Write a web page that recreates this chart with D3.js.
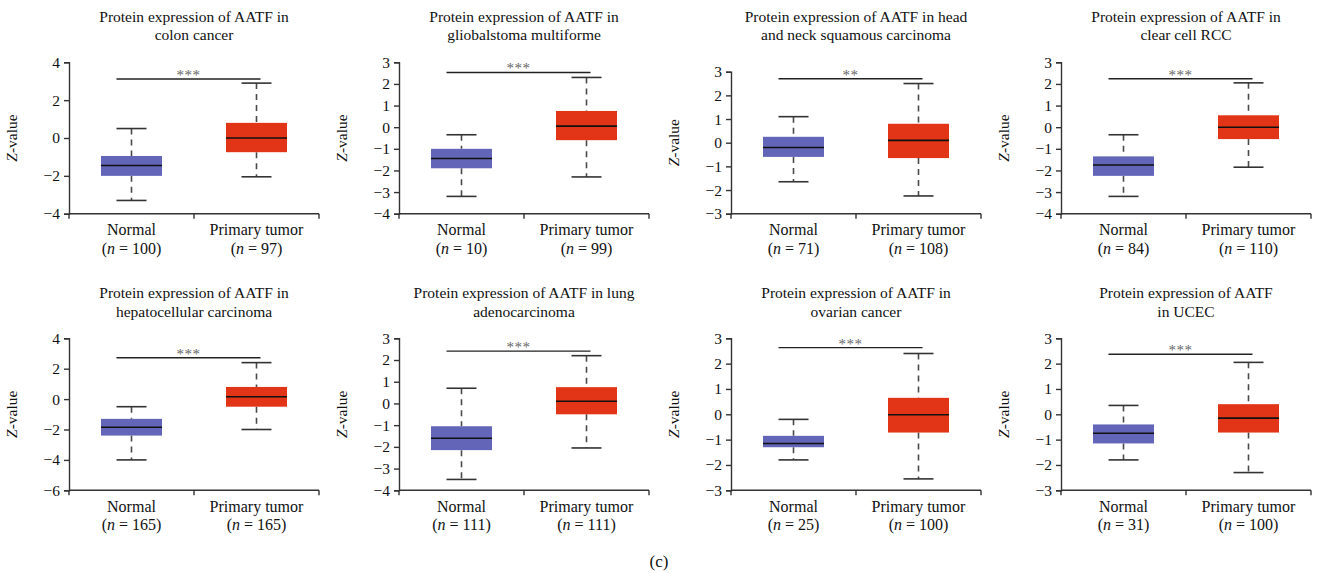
<!DOCTYPE html>
<html>
<head>
<meta charset="utf-8">
<script src="https://cdn.jsdelivr.net/npm/d3@7"></script>
<style>
  body { margin: 0; background: #fff; }
  svg { display: block; font-family: "Liberation Serif", "Times New Roman", serif; }
</style>
</head>
<body>
<svg id="chart" width="1317" height="573"></svg>
<script>
"use strict";

// panel titles (two lines each)
var titles = [
  ["Protein expression of AATF in", "colon cancer"],
  ["Protein expression of AATF in", "gliobalstoma multiforme"],
  ["Protein expression of AATF in head", "and neck squamous carcinoma"],
  ["Protein expression of AATF in", "clear cell RCC"],
  ["Protein expression of AATF in", "hepatocellular carcinoma"],
  ["Protein expression of AATF in lung", "adenocarcinoma"],
  ["Protein expression of AATF in", "ovarian cancer"],
  ["Protein expression of AATF", "in UCEC"]
];
var groups = ["Normal", "Primary tumor"];
var nNormal = [100, 10, 71, 84, 165, 111, 25, 31];
var nTumor = [97, 99, 108, 110, 165, 111, 100, 100];

// [min, q1, median, q3, max]
var normalStats = [
  [-3.3, -2.0, -1.45, -0.95, 0.5],
  [-3.2, -1.9, -1.45, -1.0, -0.35],
  [-1.65, -0.6, -0.2, 0.25, 1.1],
  [-3.2, -2.25, -1.75, -1.35, -0.35],
  [-4.0, -2.4, -1.85, -1.3, -0.5],
  [-3.5, -2.15, -1.6, -1.05, 0.7],
  [-1.8, -1.3, -1.15, -0.85, -0.2],
  [-1.8, -1.15, -0.75, -0.4, 0.35]
];
var tumorStats = [
  [-2.05, -0.75, 0.0, 0.8, 2.9],
  [-2.3, -0.6, 0.05, 0.75, 2.3],
  [-2.25, -0.65, 0.1, 0.8, 2.5],
  [-1.85, -0.55, 0.0, 0.55, 2.05],
  [-2.0, -0.5, 0.15, 0.8, 2.4],
  [-2.05, -0.5, 0.1, 0.75, 2.2],
  [-2.55, -0.72, -0.02, 0.65, 2.4],
  [-2.3, -0.72, -0.15, 0.4, 2.05]
];
var yDomains = [[-4, 4], [-4, 3], [-3, 3], [-4, 3], [-6, 4], [-4, 3], [-3, 3], [-3, 3]];
var yTickStep = [2, 1, 1, 1, 2, 1, 1, 1];
var sigLevel = [3.12, 2.53, 2.7, 2.24, 2.72, 2.41, 2.63, 2.37];
var sigStars = ["***", "***", "**", "***", "***", "***", "***", "***"];

var colors = ["#6366b8", "#e23417"];

// layout
var colLeft = [69, 399, 731, 1061];
var plotW = 250;
var rowBottom = [213.7, 490.3];
var rowTitleY = [21.7, 298.3];
var topOf = function (i) {
  if (i === 2) return 71.7;
  return i < 4 ? 62.3 : 338.3;
};

var svg = d3.select("#chart");
var fmt = d3.format("d");

titles.forEach(function (title, i) {
  var row = Math.floor(i / 4),
    col = i % 4,
    x0 = colLeft[col],
    y0 = topOf(i),
    y1 = rowBottom[row];

  var x = d3.scaleBand().domain(groups).range([x0, x0 + plotW]);
  var y = d3.scaleLinear().domain(yDomains[i]).range([y1, y0]);
  var boxW = 61, capW = 30;

  var g = svg.append("g").attr("class", "panel");

  // title
  var t = g.append("text")
    .attr("x", x0 + plotW / 2)
    .attr("y", rowTitleY[row])
    .attr("text-anchor", "middle")
    .style("font-size", "15.5px")
    .attr("fill", "#111");
  t.selectAll("tspan").data(title).enter().append("tspan")
    .attr("x", x0 + plotW / 2)
    .attr("dy", (d, k) => (k === 0 ? 0 : 18.5))
    .text((d) => d);

  // y axis
  var ticks = d3.range(yDomains[i][0], yDomains[i][1] + 0.001, yTickStep[i]);
  var yAxis = g.append("g")
    .attr("transform", "translate(" + x0 + ",0)")
    .call(d3.axisLeft(y).tickValues(ticks).tickFormat(fmt).tickSize(5).tickPadding(4));
  yAxis.select(".domain").attr("stroke", "#333").attr("stroke-width", 1.4);
  yAxis.selectAll(".tick line").attr("stroke", "#333").attr("stroke-width", 1.4);
  yAxis.selectAll(".tick text")
    .style("font-size", "15.5px")
    .style("font-family", "Liberation Serif")
    .attr("fill", "#111");

  // x axis
  var xAxisG = g.append("g").attr("transform", "translate(0," + y1 + ")");
  xAxisG.append("line")
    .attr("x1", x0).attr("x2", x0 + plotW)
    .attr("stroke", "#333").attr("stroke-width", 1.4);
  xAxisG.selectAll(".xt")
    .data([x0, x0 + plotW / 2, x0 + plotW])
    .enter().append("line")
    .attr("x1", (d) => d).attr("x2", (d) => d)
    .attr("y1", 0).attr("y2", 5)
    .attr("stroke", "#333").attr("stroke-width", 1.4);

  var labels = xAxisG.selectAll(".xl")
    .data(groups)
    .enter().append("text")
    .attr("text-anchor", "middle")
    .style("font-size", "16px")
    .attr("fill", "#111");
  labels.append("tspan")
    .attr("x", (d) => x(d) + x.bandwidth() / 2)
    .attr("y", 21.5)
    .text((d) => d);
  var nl = labels.append("tspan")
    .attr("x", (d) => x(d) + x.bandwidth() / 2)
    .attr("y", 40);
  nl.append("tspan").text("(");
  nl.append("tspan").style("font-style", "italic").text("n");
  nl.append("tspan").text((d, k) => " = " + (k === 0 ? nNormal[i] : nTumor[i]) + ")");

  // y title
  var yt = g.append("text")
    .attr("transform", "translate(" + (x0 - 52) + "," + (y0 + y1) / 2 + ") rotate(-90)")
    .attr("text-anchor", "middle")
    .style("font-size", "15.5px")
    .attr("fill", "#111");
  yt.append("tspan").style("font-style", "italic").text("Z");
  yt.append("tspan").text("-value");

  // boxes
  var stats = [normalStats[i], tumorStats[i]];
  var boxes = g.selectAll(".box")
    .data(groups.map((d, k) => ({ key: d, s: stats[k], c: colors[k] })))
    .enter().append("g").attr("class", "box");

  var cx = (d) => x(d.key) + x.bandwidth() / 2;

  // dashed whiskers
  boxes.append("line")
    .attr("x1", cx).attr("x2", cx)
    .attr("y1", (d) => y(d.s[4])).attr("y2", (d) => y(d.s[3]))
    .attr("stroke", "#4a4a4a").attr("stroke-width", 1.6)
    .attr("stroke-dasharray", "6,5");
  boxes.append("line")
    .attr("x1", cx).attr("x2", cx)
    .attr("y1", (d) => y(d.s[1])).attr("y2", (d) => y(d.s[0]))
    .attr("stroke", "#4a4a4a").attr("stroke-width", 1.6)
    .attr("stroke-dasharray", "6,5");
  // caps
  [0, 4].forEach(function (q) {
    boxes.append("line")
      .attr("x1", (d) => cx(d) - capW / 2).attr("x2", (d) => cx(d) + capW / 2)
      .attr("y1", (d) => y(d.s[q])).attr("y2", (d) => y(d.s[q]))
      .attr("stroke", "#333").attr("stroke-width", 1.6);
  });
  boxes.append("rect")
    .attr("x", (d) => cx(d) - boxW / 2)
    .attr("width", boxW)
    .attr("y", (d) => y(d.s[3]))
    .attr("height", (d) => y(d.s[1]) - y(d.s[3]))
    .attr("fill", (d) => d.c);
  boxes.append("line")
    .attr("x1", (d) => cx(d) - boxW / 2).attr("x2", (d) => cx(d) + boxW / 2)
    .attr("y1", (d) => y(d.s[2])).attr("y2", (d) => y(d.s[2]))
    .attr("stroke", "#111").attr("stroke-width", 1.6);

  // significance bar
  var sx1 = x(groups[0]) + x.bandwidth() / 2 - capW / 2,
    sx2 = x(groups[1]) + x.bandwidth() / 2 + 4;
  g.append("line")
    .attr("x1", sx1).attr("x2", sx2)
    .attr("y1", y(sigLevel[i])).attr("y2", y(sigLevel[i]))
    .attr("stroke", "#222").attr("stroke-width", 1.4);
  g.append("text")
    .attr("x", (sx1 + sx2) / 2)
    .attr("y", y(sigLevel[i]) + 1)
    .attr("text-anchor", "middle")
    .style("font-size", "15px")
    .style("letter-spacing", "0.5px")
    .attr("fill", "#666")
    .text(sigStars[i]);
});

svg.append("text")
  .attr("x", 659)
  .attr("y", 567)
  .attr("text-anchor", "middle")
  .style("font-size", "17px")
  .attr("fill", "#111")
  .text("(c)");
</script>
</body>
</html>
